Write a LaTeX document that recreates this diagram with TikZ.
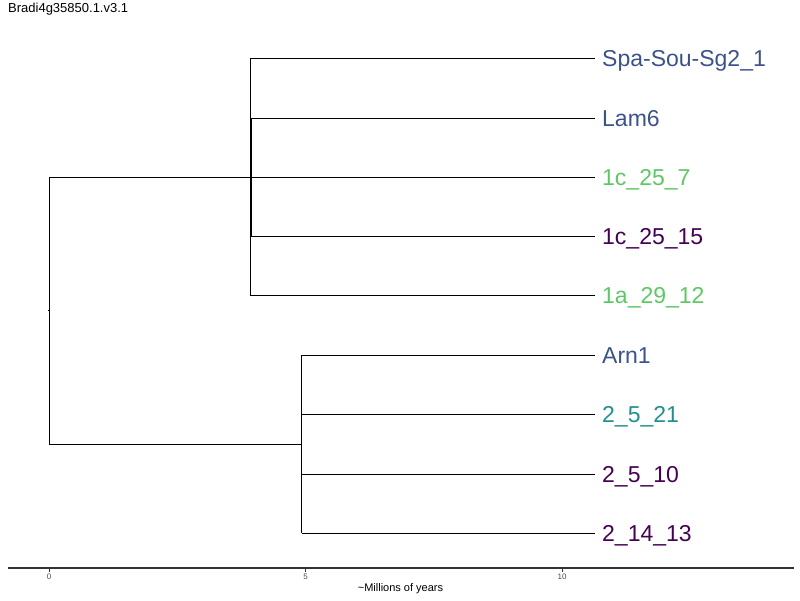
\documentclass[tikz,border=0pt]{standalone}
\usepackage{fontspec}
\setmainfont{Liberation Sans}
\definecolor{vblue}{HTML}{3B528B}
\definecolor{vgreen}{HTML}{5DC863}
\definecolor{vteal}{HTML}{21908C}
\definecolor{vpurple}{HTML}{440154}
\definecolor{axisgray}{HTML}{333333}
\definecolor{ticklab}{HTML}{4D4D4D}
\begin{document}
\begin{tikzpicture}[x=1pt,y=-1pt,
  branch/.style={draw=black,line width=0.9pt},
  leaf/.style={anchor=west,inner xsep=7pt,inner ysep=0pt,text height=16.5pt,text depth=0pt,font=\fontsize{23}{23}\selectfont},
  ticklabel/.style={font=\fontsize{8}{8}\selectfont,text=ticklab,inner sep=0pt},
  axisline/.style={draw=axisgray,line width=1.3pt}]
\useasboundingbox (0,0) rectangle (800,600);
\node[anchor=west,inner sep=0pt,font=\fontsize{13}{13}\selectfont] (title) at (8,9) {Bradi4g35850.1.v3.1};
% internal nodes
\coordinate (root) at (49,310);
\coordinate (rootstub) at (47.5,310);
\coordinate (n1) at (250,177);
\coordinate (n1b) at (251,177);
\coordinate (n2) at (301,444);
\coordinate (n2b) at (301.8,474);
% leaves
\node[leaf,text=vblue] (l1) at (595,58) {Spa-Sou-Sg2\_1};
\node[leaf,text=vblue] (l2) at (595,118) {Lam6};
\node[leaf,text=vgreen] (l3) at (595,177) {1c\_25\_7};
\node[leaf,text=vpurple] (l4) at (595,236) {1c\_25\_15};
\node[leaf,text=vgreen] (l5) at (595,295) {1a\_29\_12};
\node[leaf,text=vblue] (l6) at (595,355) {Arn1};
\node[leaf,text=vteal] (l7) at (595,414) {2\_5\_21};
\node[leaf,text=vpurple] (l8) at (595,474) {2\_5\_10};
\node[leaf,text=vpurple] (l9) at (595,533) {2\_14\_13};
% tree
\draw[branch] (rootstub) -- (root);
\draw[branch] (n1 -| root) -- (n2 -| root);
\draw[branch] (n1 -| root) -- (n1);
\draw[branch] (n2 -| root) -- (n2);
\draw[branch] (n1 |- l1.west) -- (n1 |- l5.west);
\draw[branch] (n1b |- l2.west) -- (n1b |- l4.west);
\draw[branch] (n1 |- l1.west) -- (l1.west);
\draw[branch] (n1b |- l2.west) -- (l2.west);
\draw[branch] (n1b |- l3.west) -- (l3.west);
\draw[branch] (n1b |- l4.west) -- (l4.west);
\draw[branch] (n1 |- l5.west) -- (l5.west);
\draw[branch] (n2 |- l6.west) -- (n2 |- l9.west);
\draw[branch] (n2b |- l7.west) -- (n2b |- l9.west);
\draw[branch] (n2 |- l6.west) -- (l6.west);
\draw[branch] (n2b |- l7.west) -- (l7.west);
\draw[branch] (n2b |- l8.west) -- (l8.west);
\draw[branch] (n2b |- l9.west) -- (l9.west);
% axis
\coordinate (axL) at (8,568);
\coordinate (axR) at (794,568);
\draw[axisline] (axL) -- (axR);
\foreach \xx/\lab/\nm in {49/0/t0,305.5/5/t5,562/10/t10}{
  \coordinate (\nm) at (\xx,568);
  \draw[draw=axisgray,line width=0.9pt] (\nm) -- ++(0,3.5);
  \node[ticklabel] (\nm lab) at (\xx,577) {\lab};
}
\node[inner sep=0pt,font=\fontsize{11}{11}\selectfont] (xtitle) at (400.5,589) {\textasciitilde Millions of years};
\end{tikzpicture}
\end{document}
